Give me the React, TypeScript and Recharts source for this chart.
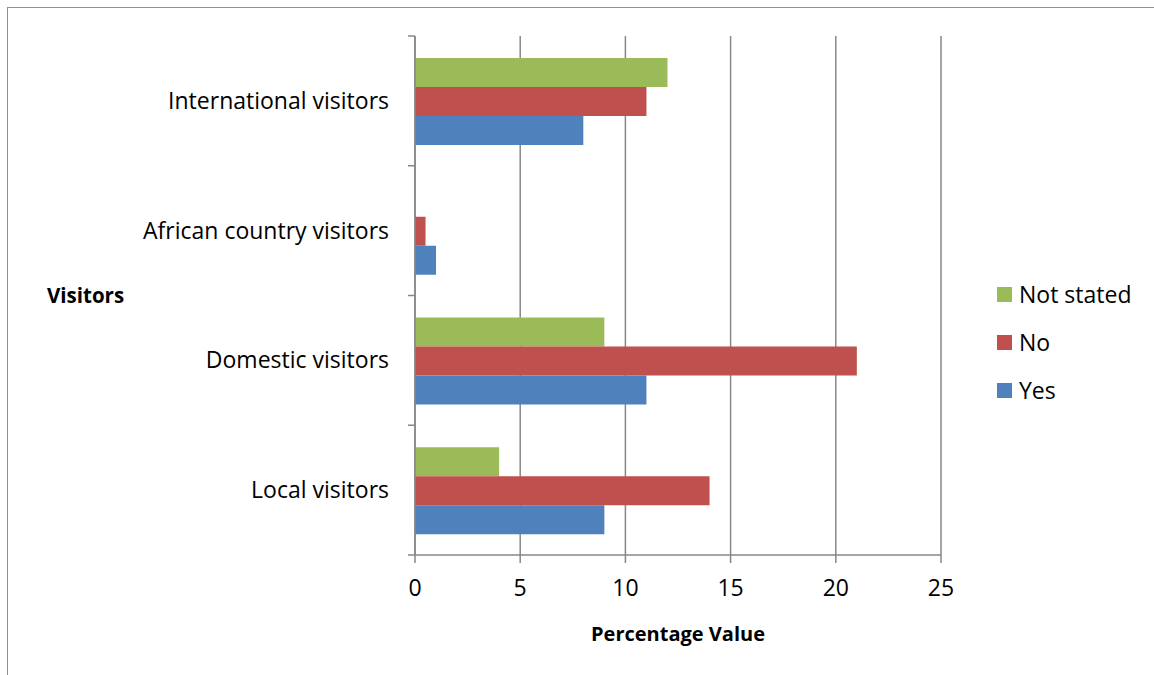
import { Bar, BarChart, CartesianGrid, Legend, XAxis, YAxis } from "recharts";

const visitorGroups = ["International visitors", "African country visitors", "Domestic visitors", "Local visitors"];
const notStated = [12, 0, 9, 4];
const no = [11, 0.5, 21, 14];
const yes = [8, 1, 11, 9];
const valueTicks = [0, 5, 10, 15, 20, 25];
const legendOrder = ["Not stated", "No", "Yes"];

const data = visitorGroups.map((name, i) => ({
  name,
  notStated: notStated[i],
  no: no[i],
  yes: yes[i],
}));

const FONT = "'Open Sans', 'Noto Sans', sans-serif";
const AXIS = "#878787";
const LABEL_GAP = 26;

function LegendBox({ payload }: any) {
  const items = [...(payload ?? [])].sort(
    (a: any, b: any) => legendOrder.indexOf(a.value) - legendOrder.indexOf(b.value)
  );
  return (
    <div style={{ fontFamily: FONT, fontSize: 23, color: "#000" }}>
      {items.map((p: any) => (
        <div key={p.value} style={{ display: "flex", alignItems: "center", height: 48 }}>
          <span style={{ width: 15, height: 15, background: p.color, marginRight: 7, display: "inline-block" }} />
          <span>{p.value}</span>
        </div>
      ))}
    </div>
  );
}

// category label plus the small tick marks on the group boundaries
function GroupTick({ x, y, payload, index, visibleTicksCount }: any) {
  const axisX = x + LABEL_GAP;
  const half = payload.offset ?? 0;
  const last = index === (visibleTicksCount ?? 4) - 1;
  return (
    <g>
      <line x1={axisX - 7} x2={axisX} y1={y - half} y2={y - half} stroke={AXIS} strokeWidth={1.5} />
      {last && <line x1={axisX - 7} x2={axisX} y1={y + half} y2={y + half} stroke={AXIS} strokeWidth={1.5} />}
      <text x={x} y={y} dy="0.35em" textAnchor="end" fontSize={23} fill="#000">
        {payload.value}
      </text>
    </g>
  );
}

export default function App() {
  return (
    <div style={{ position: "absolute", left: 0, top: 0, width: 1154, height: 675, overflow: "hidden", background: "#fff" }}>
      <div
        style={{
          position: "absolute",
          left: 7,
          top: 7,
          width: 1200,
          height: 700,
          borderLeft: "1.5px solid #8f8f8f",
          borderTop: "1.5px solid #8f8f8f",
        }}
      />
      <BarChart
        width={1154}
        height={675}
        data={data}
        layout="vertical"
        margin={{ top: 36, right: 213, bottom: 20, left: 47 }}
        barCategoryGap={22}
        barGap={0}
        style={{ position: "absolute", left: 0, top: 0, fontFamily: FONT }}
      >
        <CartesianGrid horizontal={false} stroke={AXIS} strokeWidth={1.5} />
        <XAxis
          type="number"
          domain={[0, 25]}
          ticks={valueTicks}
          height={100}
          stroke={AXIS}
          strokeWidth={1.5}
          tickSize={8}
          tickMargin={17}
          tick={{ fontSize: 23, fill: "#000" }}
          label={{ value: "Percentage Value", position: "insideBottom", offset: 14, fontSize: 20, fontWeight: 700, fill: "#000" }}
        />
        <YAxis
          type="category"
          dataKey="name"
          width={368}
          stroke={AXIS}
          strokeWidth={1.5}
          tickLine={false}
          tickSize={0}
          tickMargin={LABEL_GAP}
          tick={<GroupTick />}
          interval={0}
          label={{ value: "Visitors", position: "insideLeft", offset: 0, fontSize: 20.5, fontWeight: 700, fill: "#000" }}
        />
        <Legend
          layout="vertical"
          align="center"
          verticalAlign="middle"
          content={<LegendBox />}
          wrapperStyle={{ left: 997, top: 270, width: 150 }}
        />
        <Bar dataKey="notStated" name="Not stated" fill="#9BBB59" isAnimationActive={false} />
        <Bar dataKey="no" name="No" fill="#C0504D" isAnimationActive={false} />
        <Bar dataKey="yes" name="Yes" fill="#4F81BD" isAnimationActive={false} />
      </BarChart>
    </div>
  );
}
